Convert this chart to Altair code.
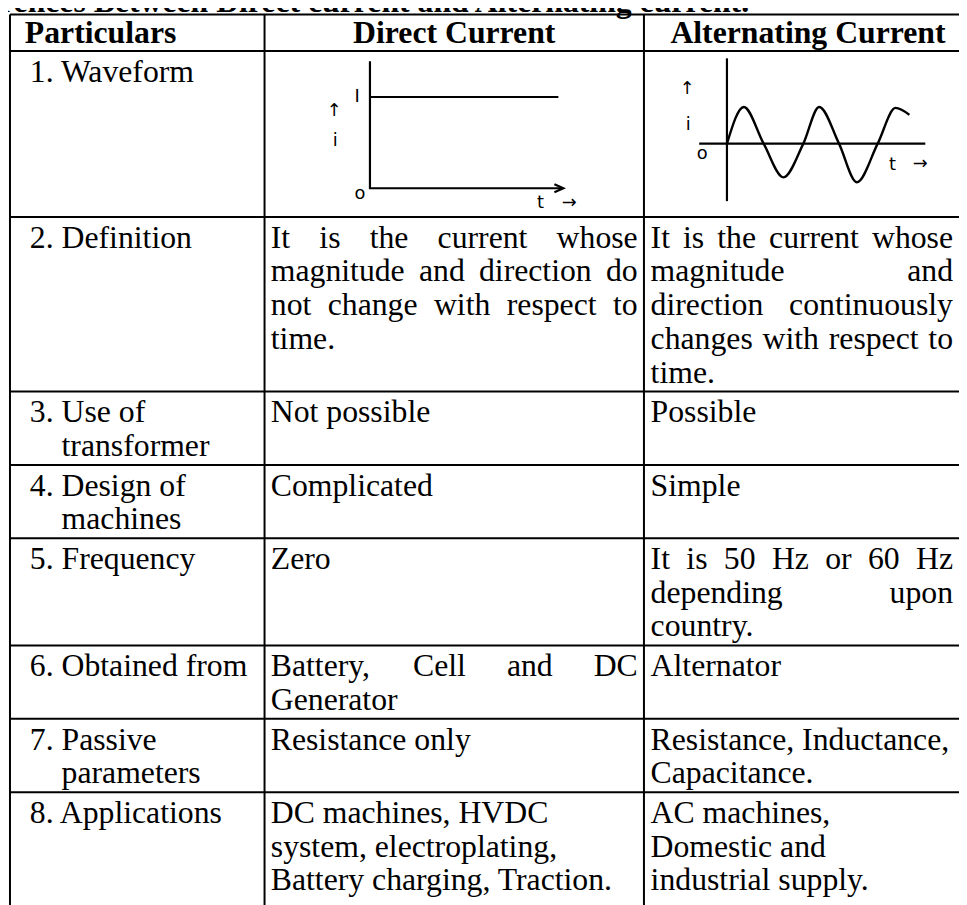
import altair as alt
import pandas as pd

# ---------------- content ----------------
title_text = "rences Between Direct current and Alternating current."
headers = ["Particulars", "Direct Current", "Alternating Current"]
row_numbers = ["1.", "2.", "3.", "4.", "5.", "6.", "7.", "8."]
row_labels = [["Waveform"], ["Definition"], ["Use of", "transformer"], ["Design of", "machines"],
              ["Frequency"], ["Obtained from"], ["Passive", "parameters"], ["Applications"]]
dc_text = [[],
           ["It is the current whose", "magnitude and direction do", "not change with respect to", "time."],
           ["Not possible"], ["Complicated"], ["Zero"],
           ["Battery, Cell and DC", "Generator"],
           ["Resistance only"],
           ["DC machines, HVDC", "system, electroplating,", "Battery charging, Traction."]]
ac_text = [[],
           ["It is the current whose", "magnitude and", "direction continuously", "changes with respect to", "time."],
           ["Possible"], ["Simple"],
           ["It is 50 Hz or 60 Hz", "depending upon", "country."],
           ["Alternator"],
           ["Resistance, Inductance,", "Capacitance."],
           ["AC machines,", "Domestic and", "industrial supply."]]
dc_justified = {1: [0, 1, 2], 5: [0]}
ac_justified = {1: [0, 1, 2, 3], 4: [0, 1]}

# waveform sketches
dc_axis_x = [373, 373, 568]
dc_axis_y = [58, 186, 186]
dc_level_x = [373, 563]
dc_level_y = [94, 94]
dc_arrow_x = [559, 568, 559]
dc_arrow_y = [182, 186, 190]
ac_vaxis_x = [733, 733]
ac_vaxis_y = [55, 199]
ac_haxis_x = [705, 933]
ac_haxis_y = [141, 141]
ac_wave_x = [733, 750, 770, 790, 810, 826, 846, 864, 885, 903, 917]
ac_wave_y = [141, 104, 141, 175, 141, 104, 141, 180, 141, 105, 112]
sketch_labels = ["I", "↑", "i", "o", "t", "→", "↑", "i", "o", "t", "→"]
sketch_label_x = [360, 337, 338, 363, 545, 574, 693, 694, 708, 900, 928]
sketch_label_y = [94, 108, 138, 192, 201, 201, 86, 122, 151, 163, 162]

# ---------------- layout ----------------
W, H = 959, 897
OX, OY = 8, 8
col_edges = [10, 266.7, 649.3]
FS = 32
HFS = 32
LINE = 34
FIRST_BASE = 31
ROW_PAD = 6
n_lines = [max(len(a), len(b), len(c)) for a, b, c in zip(row_labels, dc_text, ac_text)]
row_edges = [10.7, 47.7, 215]
for n in n_lines[1:-1]:
    row_edges.append(row_edges[-1] + n * LINE + ROW_PAD)
col2_left, col2_right = 273, 643
col3_left, col3_right = 656, 961
num_x = 30
serif = "Liberation Serif"

TW = {' ': 250, ',': 250, '.': 250}
for d in "0123456789":
    TW[d] = 500
TW.update(dict(A=722, B=667, C=667, D=722, E=611, F=556, G=722, H=722, I=333, J=389, K=722, L=611,
               M=889, N=722, O=722, P=556, Q=722, R=667, S=556, T=611, U=722, V=722, W=944, X=722,
               Y=722, Z=611, a=444, b=500, c=444, d=500, e=444, f=333, g=500, h=500, i=278, j=278,
               k=500, l=278, m=778, n=500, o=500, p=500, q=500, r=333, s=389, t=278, u=500, v=500,
               w=722, x=500, y=500, z=444))


def tw(s, fs=FS):
    return sum(TW.get(c, 500) for c in s) / 1000.0 * fs


rows = []
for r, (num, lines) in enumerate(zip(row_numbers, row_labels)):
    top = row_edges[r + 1]
    for i, line in enumerate(lines):
        yb = top + FIRST_BASE + i * LINE
        if i == 0:
            rows.append(dict(x=num_x, y=yb, text=num + " " + line))
        else:
            rows.append(dict(x=num_x + tw(num + " "), y=yb, text=line))


def cell(texts, justified, left, right):
    for r, lines in enumerate(texts):
        top = row_edges[r + 1]
        for i, line in enumerate(lines):
            yb = top + FIRST_BASE + i * LINE
            if i in justified.get(r, []):
                words = line.split(" ")
                widths = [tw(w) for w in words]
                gap = (right - left - sum(widths)) / (len(words) - 1)
                x = left
                for w, wd in zip(words, widths):
                    rows.append(dict(x=x, y=yb, text=w))
                    x += wd + gap
            else:
                rows.append(dict(x=left, y=yb, text=line))


cell(dc_text, dc_justified, col2_left, col2_right)
cell(ac_text, ac_justified, col3_left, col3_right)
body_df = pd.DataFrame(rows)

xs = alt.Scale(domain=[OX, OX + W], range=[0, W], nice=False, zero=False)
ys = alt.Scale(domain=[OY, OY + H], range=[0, H], nice=False, zero=False)


def X(f):
    return alt.X(f, type="quantitative", scale=xs, axis=None)


def Y(f):
    return alt.Y(f, type="quantitative", scale=ys, axis=None)


seg = []
for y in row_edges:
    seg.append(dict(x=col_edges[0], y=y, x2=1000, y2=y))
for x in col_edges:
    seg.append(dict(x=x, y=row_edges[0], x2=x, y2=1000))
grid = alt.Chart(pd.DataFrame(seg)).mark_rule(color="black", strokeWidth=2).encode(
    x=X("x"), y=Y("y"), x2="x2", y2="y2")

body = alt.Chart(body_df).mark_text(align="left", baseline="alphabetic", font=serif,
                                    fontSize=FS, color="black").encode(
    x=X("x"), y=Y("y"), text="text")

hdr_df = pd.DataFrame(dict(
    x=[25, (col_edges[1] + col_edges[2]) / 2, 814.7],
    y=[39.5] * 3,
    text=headers,
    al=["left", "center", "center"]))
hdr_left = alt.Chart(hdr_df[hdr_df.al == "left"]).mark_text(
    align="left", baseline="alphabetic", font=serif, fontSize=HFS, fontWeight="bold",
    color="black").encode(x=X("x"), y=Y("y"), text="text")
hdr_center = alt.Chart(hdr_df[hdr_df.al == "center"]).mark_text(
    align="center", baseline="alphabetic", font=serif, fontSize=HFS, fontWeight="bold",
    color="black").encode(x=X("x"), y=Y("y"), text="text")

title = alt.Chart(pd.DataFrame(dict(x=[0], y=[8.5], text=[title_text]))).mark_text(
    align="left", baseline="alphabetic", font=serif, fontSize=HFS, fontWeight="bold",
    color="black").encode(x=X("x"), y=Y("y"), text="text")


def path_df(xv, yv, name):
    return pd.DataFrame(dict(x=xv, y=yv, o=list(range(len(xv))), g=name))


paths = pd.concat([
    path_df(dc_axis_x, dc_axis_y, "dcaxis"),
    path_df(dc_level_x, dc_level_y, "dclevel"),
    path_df(dc_arrow_x, dc_arrow_y, "dcarrow"),
    path_df(ac_vaxis_x, ac_vaxis_y, "acv"),
    path_df(ac_haxis_x, ac_haxis_y, "ach"),
])
lines = alt.Chart(paths).mark_line(color="black", strokeWidth=2.2).encode(
    x=X("x"), y=Y("y"), order="o:Q", detail="g:N")
wave = alt.Chart(path_df(ac_wave_x, ac_wave_y, "wave")).mark_line(
    color="black", strokeWidth=2.4, interpolate="monotone").encode(
    x=X("x"), y=Y("y"), order="o:Q")
lab = alt.Chart(pd.DataFrame(dict(x=sketch_label_x, y=sketch_label_y, text=sketch_labels))).mark_text(
    align="center", baseline="middle", font="DejaVu Sans", fontSize=18, color="black").encode(
    x=X("x"), y=Y("y"), text="text")

chart = alt.layer(grid, lines, wave, lab, body, hdr_left, hdr_center, title).properties(
    width=W, height=H, padding=0, autosize=alt.AutoSizeParams(type="none")
).configure_view(stroke=None)

chart.save("out.html", embed_options={"renderer": "svg", "actions": False})
